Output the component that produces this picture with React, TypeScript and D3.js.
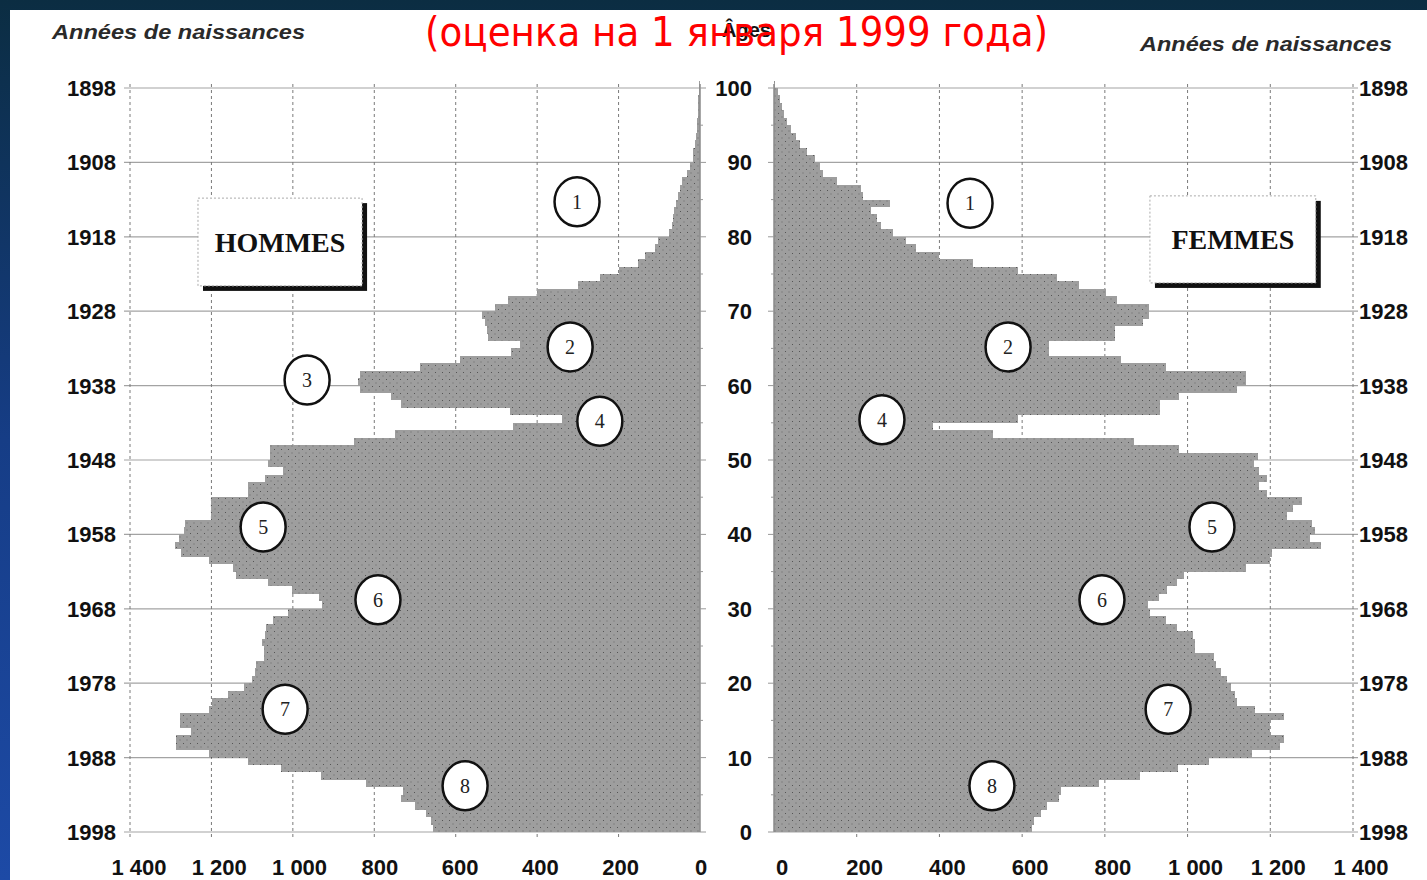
import React from 'react';
import * as d3 from 'd3';

// ---- data (thousands of persons, by age 0..100, Russia, 1 Jan 1999) ----
const ages: number[] = d3.range(0, 101);
const males: number[] = [
  655, 660, 672, 700, 735, 730, 820, 930, 1030, 1110,
  1206, 1287, 1287, 1250, 1278, 1278, 1206, 1198, 1160, 1120,
  1100, 1093, 1090, 1071, 1071, 1075, 1069, 1065, 1049, 1012,
  929, 935, 1003, 1061, 1140, 1147, 1206, 1275, 1290, 1280,
  1268, 1265, 1200, 1200, 1200, 1110, 1110, 1069, 1024, 1061,
  1057, 1057, 849, 750, 460, 340, 467, 735, 760, 836,
  840, 836, 688, 590, 463, 442, 520, 522, 528, 536,
  503, 471, 401, 300, 245, 200, 152, 135, 110, 104,
  75, 68, 66, 63, 58, 54, 50, 43, 32, 25,
  18, 16, 12, 10, 8, 7, 6, 5, 4, 3, 2,
];
const females: number[] = [
  625, 628, 645, 660, 690, 695, 785, 885, 978, 1052,
  1155, 1223, 1232, 1200, 1200, 1232, 1164, 1119, 1114, 1105,
  1096, 1082, 1069, 1064, 1019, 1019, 1014, 974, 947, 910,
  905, 930, 951, 974, 992, 1141, 1200, 1205, 1322, 1295,
  1309, 1300, 1240, 1254, 1277, 1191, 1173, 1191, 1173, 1160,
  1170, 979, 870, 530, 385, 589, 933, 933, 979, 1119,
  1142, 1142, 947, 840, 666, 666, 825, 825, 893, 906,
  906, 830, 802, 738, 684, 589, 480, 399, 344, 320,
  288, 258, 250, 235, 281, 216, 210, 152, 118, 112,
  100, 79, 62, 52, 42, 32, 25, 19, 15, 10, 3,
];
const yearTicks: number[] = [1898, 1908, 1918, 1928, 1938, 1948, 1958, 1968, 1978, 1988, 1998];
const ageTicks: number[] = [0, 10, 20, 30, 40, 50, 60, 70, 80, 90, 100];
const valueTicks: number[] = [0, 200, 400, 600, 800, 1000, 1200, 1400];
const valueTickLabels: string[] = ['0', '200', '400', '600', '800', '1 000', '1 200', '1 400'];
const menNotes = [
  { n: '1', age: 84.7, v: 302 },
  { n: '2', age: 65.2, v: 319 },
  { n: '3', age: 60.75, v: 965 },
  { n: '4', age: 55.2, v: 246 },
  { n: '5', age: 41, v: 1073 },
  { n: '6', age: 31.2, v: 791 },
  { n: '7', age: 16.5, v: 1019 },
  { n: '8', age: 6.2, v: 577 },
];
const womenNotes = [
  { n: '1', age: 84.5, v: 474 },
  { n: '2', age: 65.2, v: 566 },
  { n: '4', age: 55.4, v: 261 },
  { n: '5', age: 41, v: 1059 },
  { n: '6', age: 31.2, v: 793 },
  { n: '7', age: 16.5, v: 953 },
  { n: '8', age: 6.2, v: 527 },
];
const titleText = '(оценка на 1 января 1999 года)';
const yearAxisTitle = 'Années de naissances';
const ageAxisTitle = 'Âges';
const menLabel = 'HOMMES';
const womenLabel = 'FEMMES';

const W = 1427;
const H = 880;
const y = d3.scaleLinear().domain([0, 100]).range([832, 88]);
const xL = d3.scaleLinear().domain([0, 1400]).range([700, 130]);
const xR = d3.scaleLinear().domain([0, 1400]).range([774, 1353]);
const xLlab = d3.scaleLinear().domain([0, 1400]).range([701, 139]);
const xRlab = d3.scaleLinear().domain([0, 1400]).range([782, 1361]);

const sans = "'Liberation Sans', Arial, sans-serif";
const serif = "'Liberation Serif', 'Times New Roman', serif";

function Box({ x0, x1, y0, y1, label }: { x0: number; x1: number; y0: number; y1: number; label: string }) {
  const left = Math.min(x0, x1);
  const top = Math.min(y0, y1);
  const w = Math.abs(x1 - x0);
  const h = Math.abs(y1 - y0);
  return (
    <g>
      <rect x={left + 5} y={top + 5} width={w} height={h} fill="#111" />
      <rect x={left} y={top} width={w} height={h} fill="#fff" stroke="#aaa" strokeWidth={1} strokeDasharray="2,2" />
      <text x={left + w / 2} y={top + h / 2 + 10} textAnchor="middle" fontFamily={serif} fontWeight="bold" fontSize={28} fill="#111">
        {label}
      </text>
    </g>
  );
}

export default function App() {
  const band = (a: number) => ({ top: y(a + 1), h: y(a) - y(a + 1) });
  return (
    <svg width={W} height={H} style={{ position: 'absolute', left: 0, top: 0 }} xmlns="http://www.w3.org/2000/svg">
      <defs>
        <linearGradient id="bg" x1="0" y1="0" x2="0" y2="1">
          <stop offset="0" stopColor="#0b2d42" />
          <stop offset="0.5" stopColor="#163d86" />
          <stop offset="1" stopColor="#1d4aa6" />
        </linearGradient>
        <pattern id="dots" width="7" height="7" patternUnits="userSpaceOnUse">
          <rect width="7" height="7" fill="#9e9e9e" />
          <rect x="1" y="1" width="1" height="1" fill="#555" />
          <rect x="4.5" y="4.5" width="1" height="1" fill="#666" />
        </pattern>
      </defs>
      <rect x={0} y={0} width={W} height={H} fill="url(#bg)" />
      <rect x={10} y={10} width={W - 10} height={H - 10} fill="#ffffff" />

      {/* horizontal grid */}
      {yearTicks.map((yr) => (
        <g key={'h' + yr}>
          <line x1={124} x2={700} y1={y(1998 - yr)} y2={y(1998 - yr)} stroke="#a3a3a3" strokeWidth={1.2} />
          <line x1={774} x2={1358} y1={y(1998 - yr)} y2={y(1998 - yr)} stroke="#a3a3a3" strokeWidth={1.2} />
        </g>
      ))}
      {/* vertical dashed grid */}
      {valueTicks.filter((v) => v > 0).map((v) => (
        <g key={'v' + v}>
          <line x1={xL(v)} x2={xL(v)} y1={84} y2={838} stroke="#7a7a7a" strokeWidth={1} strokeDasharray="3,3" />
          <line x1={xR(v)} x2={xR(v)} y1={84} y2={838} stroke="#7a7a7a" strokeWidth={1} strokeDasharray="3,3" />
        </g>
      ))}

      {/* bars */}
      <g shapeRendering="crispEdges">
        {ages.map((a, i) => {
          const b = band(a);
          return (
            <g key={'b' + a}>
              <rect x={xL(males[i])} y={b.top} width={xL(0) - xL(males[i])} height={b.h} fill="url(#dots)" />
              <rect x={xR(0)} y={b.top} width={xR(females[i]) - xR(0)} height={b.h} fill="url(#dots)" />
            </g>
          );
        })}
      </g>

      {/* axes */}
      <line x1={xL(0)} x2={xL(0)} y1={84} y2={832} stroke="#8a8a8a" strokeWidth={1.5} />
      <line x1={xR(0)} x2={xR(0)} y1={84} y2={832} stroke="#8a8a8a" strokeWidth={1.5} />
      {ages.filter((a) => a % 5 === 0).map((a) => (
        <g key={'t' + a}>
          <line x1={xL(0)} x2={xL(0) + (a % 10 === 0 ? 6 : 3)} y1={y(a)} y2={y(a)} stroke="#999" strokeWidth={1} />
          <line x1={xR(0)} x2={xR(0) - (a % 10 === 0 ? 6 : 3)} y1={y(a)} y2={y(a)} stroke="#999" strokeWidth={1} />
        </g>
      ))}

      {/* year labels */}
      {yearTicks.map((yr) => (
        <g key={'yl' + yr} fontFamily={sans} fontWeight="bold" fontSize={22} fill="#111">
          <text x={116} y={y(1998 - yr) + 8} textAnchor="end">{yr}</text>
          <text x={1359} y={y(1998 - yr) + 8} textAnchor="start">{yr}</text>
        </g>
      ))}
      {/* age labels */}
      {ageTicks.map((a) => (
        <text key={'al' + a} x={752} y={y(a) + 8} textAnchor="end" fontFamily={sans} fontWeight="bold" fontSize={22} fill="#111">
          {a}
        </text>
      ))}
      {/* value labels */}
      {valueTicks.map((v, i) => (
        <g key={'vl' + v} fontFamily={sans} fontWeight="bold" fontSize={22} fill="#111" textAnchor="middle">
          <text x={xLlab(v)} y={875}>{valueTickLabels[i]}</text>
          <text x={xRlab(v)} y={875}>{valueTickLabels[i]}</text>
        </g>
      ))}

      {/* axis titles */}
      <text x={52} y={39} fontFamily={sans} fontStyle="italic" fontWeight="bold" fontSize={21} fill="#2a2a2a" textLength={253} lengthAdjust="spacingAndGlyphs">
        {yearAxisTitle}
      </text>
      <text x={1140} y={51} fontFamily={sans} fontStyle="italic" fontWeight="bold" fontSize={21} fill="#2a2a2a" textLength={252} lengthAdjust="spacingAndGlyphs">
        {yearAxisTitle}
      </text>
      <text x={722} y={37} fontFamily={sans} fontWeight="bold" fontSize={20} fill="#111">
        {ageAxisTitle}
      </text>

      {/* boxes */}
      <Box x0={xL(1233)} x1={xL(830)} y0={y(85.2)} y1={y(73.4)} label={menLabel} />
      <Box x0={xR(909)} x1={xR(1310)} y0={y(85.5)} y1={y(73.8)} label={womenLabel} />

      {/* numbered circles */}
      {menNotes.map((d) => (
        <g key={'m' + d.n}>
          <ellipse cx={xL(d.v)} cy={y(d.age)} rx={22.5} ry={24.5} fill="#fff" stroke="#111" strokeWidth={2.5} />
          <text x={xL(d.v)} y={y(d.age) + 7} textAnchor="middle" fontFamily={serif} fontSize={20} fill="#222">{d.n}</text>
        </g>
      ))}
      {womenNotes.map((d) => (
        <g key={'w' + d.n}>
          <ellipse cx={xR(d.v)} cy={y(d.age)} rx={22.5} ry={24.5} fill="#fff" stroke="#111" strokeWidth={2.5} />
          <text x={xR(d.v)} y={y(d.age) + 7} textAnchor="middle" fontFamily={serif} fontSize={20} fill="#222">{d.n}</text>
        </g>
      ))}

      {/* red title */}
      <text x={736.5} y={46} textAnchor="middle" fontFamily="'DejaVu Sans', Verdana, sans-serif" fontSize={40} fill="#ff0000" textLength={623} lengthAdjust="spacingAndGlyphs">
        {titleText}
      </text>
    </svg>
  );
}
